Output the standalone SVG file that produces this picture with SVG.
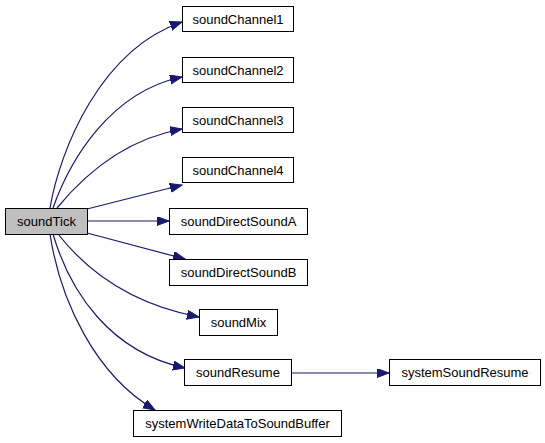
<svg xmlns="http://www.w3.org/2000/svg" width="545" height="443" viewBox="0 0 545 443">
<defs>
<marker id="ah" markerUnits="userSpaceOnUse" markerWidth="14" markerHeight="10" refX="12" refY="4.5" orient="auto">
<path d="M0,0 L12,4.5 L0,9 z" fill="#191970" stroke="#191970" stroke-width="1"/>
</marker>
<style>
.n rect{fill:#fff;stroke:#000;stroke-width:1}
.n text{font-family:"Liberation Sans",Arial,sans-serif;font-size:13px;text-anchor:middle;fill:#000}
#soundTick rect{fill:#bfbfbf}
.e path{fill:none;stroke:#191970;stroke-width:1.2;marker-end:url(#ah)}
</style>
</defs>
<rect width="545" height="443" fill="#fff"/>
<g id="edges" class="e">
<path d="M50,208 C60,150 100,50 182,22"/>
<path d="M53,208 C70,160 110,92 182,77"/>
<path d="M57,208 C80,180 120,140 182,129"/>
<path d="M87,209 L182,185"/>
<path d="M87,221 L169,221"/>
<path d="M87,233 L185,259"/>
<path d="M58,234 C80,262 120,302 199,317"/>
<path d="M53,234 C70,292 110,352 185,368"/>
<path d="M50,234 C60,300 95,375 155,410"/>
<path d="M291,373 L389,373"/>
</g>
<g id="soundTick" class="n"><rect x="5.5" y="208.5" width="82" height="26"/><text x="46.5" y="226">soundTick</text></g>
<g id="soundChannel1" class="n"><rect x="182.5" y="6.5" width="111" height="25"/><text x="238" y="23.5">soundChannel1</text></g>
<g id="soundChannel2" class="n"><rect x="182.5" y="57.5" width="111" height="25"/><text x="238" y="74.5">soundChannel2</text></g>
<g id="soundChannel3" class="n"><rect x="182.5" y="107.5" width="111" height="25"/><text x="238" y="124.5">soundChannel3</text></g>
<g id="soundChannel4" class="n"><rect x="182.5" y="157.5" width="111" height="25"/><text x="238" y="174.5">soundChannel4</text></g>
<g id="soundDirectSoundA" class="n"><rect x="169.5" y="208.5" width="138" height="26"/><text x="238.5" y="226">soundDirectSoundA</text></g>
<g id="soundDirectSoundB" class="n"><rect x="169.5" y="259.5" width="138" height="26"/><text x="238.5" y="277">soundDirectSoundB</text></g>
<g id="soundMix" class="n"><rect x="199.5" y="309.5" width="78" height="26"/><text x="238.5" y="327">soundMix</text></g>
<g id="soundResume" class="n"><rect x="184.5" y="359.5" width="107" height="26"/><text x="238" y="377">soundResume</text></g>
<g id="systemWriteDataToSoundBuffer" class="n"><rect x="133.5" y="410.5" width="208" height="26"/><text x="237.5" y="428">systemWriteDataToSoundBuffer</text></g>
<g id="systemSoundResume" class="n"><rect x="389.5" y="359.5" width="151" height="26"/><text x="465" y="377">systemSoundResume</text></g>
</svg>
